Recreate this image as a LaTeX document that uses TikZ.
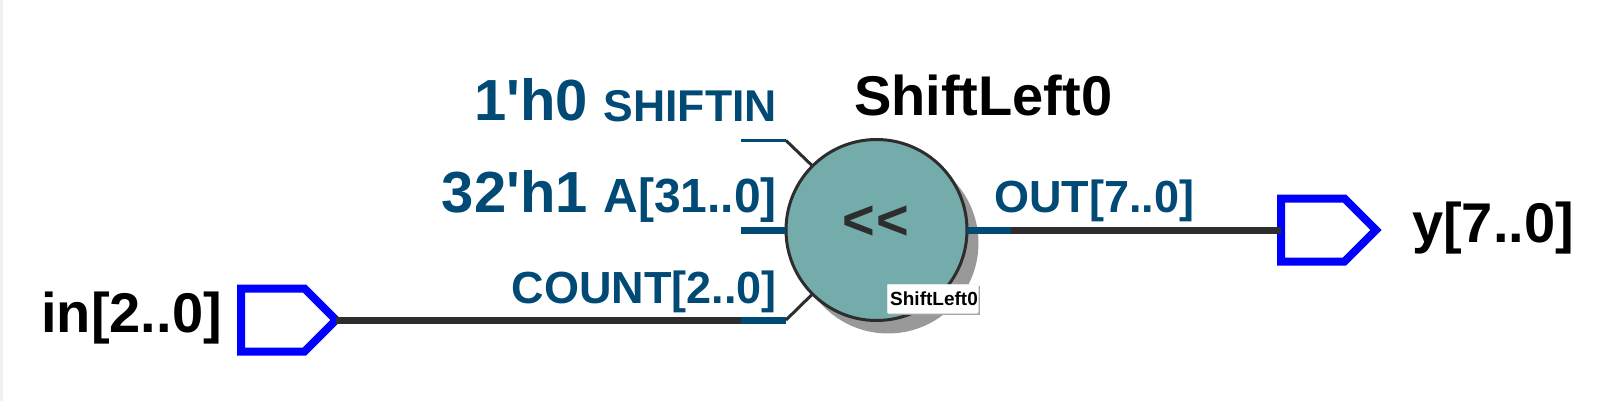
\documentclass[tikz,border=0pt]{standalone}
\usepackage{fontspec}
\setmainfont{Liberation Sans}[Ligatures=TeXOff]
\usepackage{xcolor}
\usetikzlibrary{shapes.symbols}
\definecolor{portblue}{HTML}{004A75}
\definecolor{wiredark}{HTML}{2D2D2D}
\definecolor{opfill}{HTML}{74ABAB}
\definecolor{shadowgray}{HTML}{999999}
\newcommand{\pxfont}[1]{\fontsize{#1}{#1}\selectfont\bfseries}
\tikzset{
  vpin/.style={signal,signal to=east,signal pointer angle=90,draw=blue,line width=8pt,fill=white,minimum width=95pt,minimum height=63pt,inner sep=0pt,outer sep=0pt,anchor=west,miter limit=2},
  vname/.style={font=\pxfont{56},text=black,inner sep=0pt},
  vport/.style={font=\pxfont{45},text=portblue,inner sep=0pt},
  vconst/.style={font=\pxfont{58},text=portblue,inner sep=0pt},
  vwire/.style={line width=7pt,draw=wiredark},
  vbus/.style={line width=7pt,draw=portblue},
  vthin/.style={line width=2.5pt,draw=portblue},
  vstub/.style={line width=3pt,draw=wiredark}
}
\begin{document}
\begin{tikzpicture}[x=1pt,y=-1pt]
  \useasboundingbox (0,0) rectangle (1607,401);
  \fill[black!6] (0,0) rectangle (3,401);
  \node[circle,fill=shadowgray,minimum size=181pt,inner sep=0pt] (shadow) at (888,243) {};
  \node[circle,draw=wiredark,fill=opfill,line width=3pt,minimum size=181pt,inner sep=0pt,outer sep=0pt] (shifter) at (876.5,230) {};
  \node[font=\pxfont{56},text=wiredark,inner sep=0pt] (oper) at (876,223) {<\kern1pt<};
  \node[vpin] (inpin) at (241,320) {};
  \node[vpin] (ypin) at (1281,230) {};
  \coordinate (shiftend) at (741,140.5);
  \coordinate (shiftport) at (786,140.5);
  \coordinate (aend) at (741,230);
  \coordinate (countend) at (741,320);
  \coordinate (countport) at (786,320);
  \coordinate (outend) at (1011,230);
  \draw[vthin] (shiftend) -- (shiftport);
  \draw[vstub] (shiftport) -- (shifter.135);
  \draw[vbus] (aend) -- (shifter.west);
  \draw[vwire] (inpin.east) -- (countend);
  \draw[vbus] (countend) -- (countport);
  \draw[vstub] (countport) -- (shifter.225);
  \draw[vbus] (shifter.east) -- (outend);
  \draw[vwire] (outend) -- (ypin.west);
  \node[vconst,anchor=base east] (shiftval) at (588,121) {1'h0};
  \node[vport,anchor=base east,font=\pxfont{44.5}] (shiftlab) at (777,122) {SHIFTIN};
  \node[vconst,anchor=base east] (aval) at (588,212) {32'h1};
  \node[vport,anchor=base east,font=\pxfont{48}] (alab) at (777,212) {A[31..0]};
  \node[vport,anchor=base east] (countlab) at (777,303) {COUNT[2..0]};
  \node[vport,anchor=base west] (outlab) at (994,212.5) {OUT[7..0]};
  \node[vname,anchor=base west] (title) at (854,116) {ShiftLeft0};
  \node[vname,anchor=base east] (inlab) at (222,332.5) {in[2..0]};
  \node[vname,anchor=base west] (ylab) at (1412,242.5) {y[7..0]};
  \fill[black!35] (889,286) rectangle (980,315);
  \node[fill=white,draw=black!8,line width=.5pt,rounded corners=1pt,minimum width=91pt,minimum height=29pt,inner sep=0pt,anchor=north west] (tiplab) at (887,284) {};
  \node[font=\pxfont{19},inner sep=0pt,anchor=base west] (tiptext) at (890,305) {ShiftLeft0};
\end{tikzpicture}
\end{document}
